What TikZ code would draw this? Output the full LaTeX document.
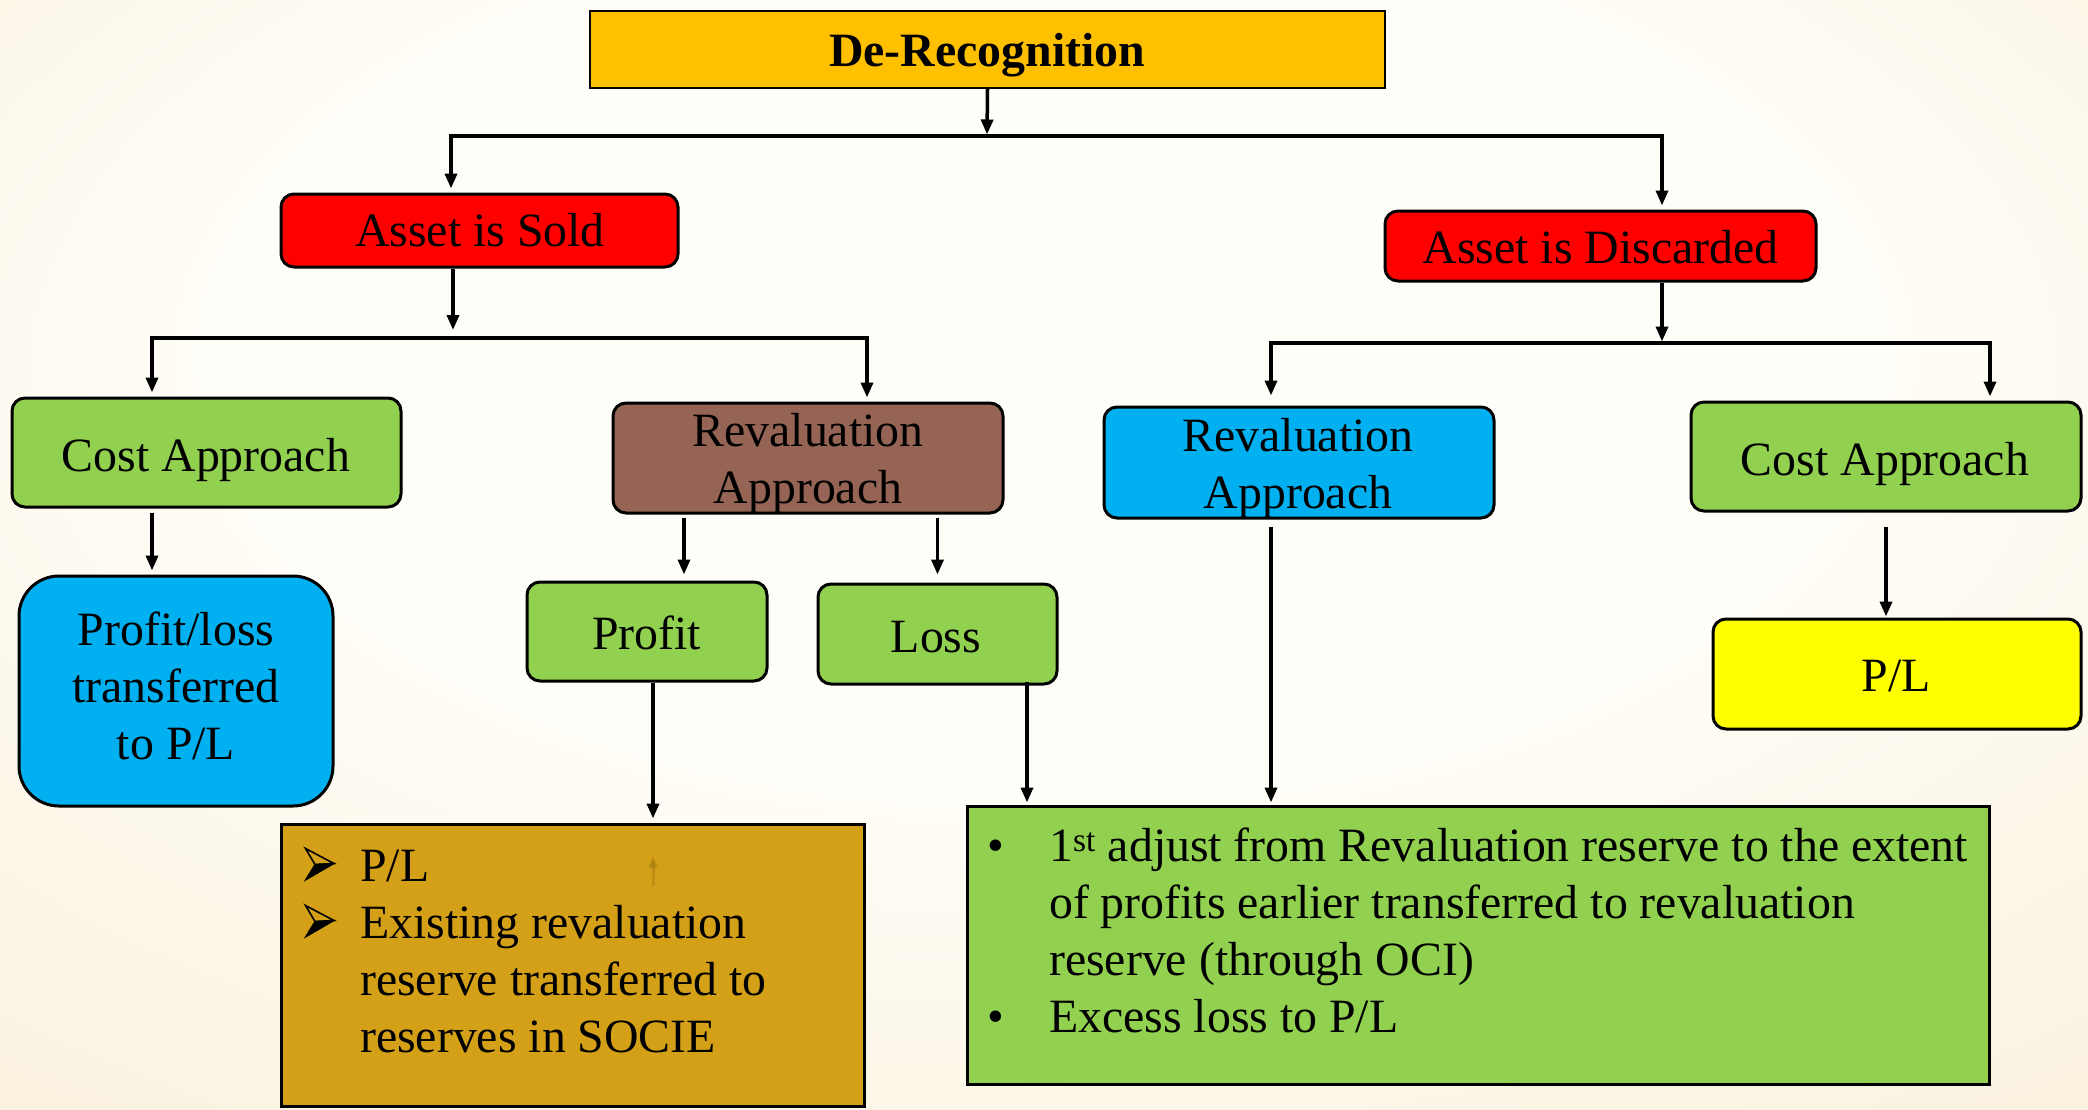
\documentclass[tikz,border=0pt]{standalone}
\usepackage{fontspec}
\setmainfont{Liberation Serif}
\usetikzlibrary{arrows.meta}

\definecolor{bgin}{HTML}{FFFDF7}
\definecolor{bgmid}{HTML}{FAF0DC}
\definecolor{bgout}{HTML}{F2DCAE}
\definecolor{headfill}{HTML}{FFC000}
\definecolor{redfill}{HTML}{FF0000}
\definecolor{greenfill}{HTML}{92D050}
\definecolor{brownfill}{HTML}{956454}
\definecolor{bluefill}{HTML}{00B0F0}
\definecolor{goldfill}{HTML}{D4A017}
\definecolor{yellowfill}{HTML}{FFFF00}

\pgfdeclareradialshading{bgglow}{\pgfpoint{0bp}{12bp}}{%
  color(0bp)=(bgin); color(20bp)=(bgin); color(42bp)=(bgmid);
  color(64bp)=(bgout); color(75bp)=(bgout)}

\begin{document}
\begin{tikzpicture}[x=1pt,y=-1pt,
  box/.style={draw=black, line width=3pt, rounded corners=13pt, inner sep=0pt},
  plain/.style={draw=black, line width=2.5pt, inner sep=0pt},
  txt/.style={inner sep=0pt, anchor=base, font=\fontsize{47.8pt}{57pt}\selectfont},
  conn/.style={line width=3.5pt, line join=miter, -{Triangle[length=15pt,width=12pt]}, shorten >=4pt},
  arrowmark/.pic={
    % outlined upper half and solid lower half of the list arrowhead
    \draw[line width=1.6pt, line join=miter] (0.5,-32.5) -- (29,-17.5) -- (10,-16.5) -- cycle;
    \fill[black] (10,-16.5) -- (29,-17.5) -- (0.5,-1) -- cycle;
    \draw[line width=1.2pt, line join=miter] (10,-16.5) -- (29,-17.5) -- (0.5,-1) -- cycle;
  },
]
% background
\shade[shading=bgglow] (0,0) rectangle (2088,1109);
\useasboundingbox (0,0) rectangle (2088,1109);

% boxes
\node[plain, line width=2pt, fill=headfill, minimum width=795pt, minimum height=77pt] (derec) at (987.5,49.5) {};
\node[box, fill=redfill, minimum width=397pt, minimum height=73pt] (sold) at (479.5,230.5) {};
\node[box, fill=redfill, minimum width=431pt, minimum height=70pt] (disc) at (1600.5,246) {};
\node[box, fill=greenfill, minimum width=389pt, minimum height=109pt] (costL) at (206.5,452.5) {};
\node[box, fill=brownfill, minimum width=390pt, minimum height=110pt] (revL) at (808,458) {};
\node[box, fill=bluefill, minimum width=390pt, minimum height=111pt] (revR) at (1299,462.5) {};
\node[box, fill=greenfill, minimum width=390pt, minimum height=109pt] (costR) at (1886,456.5) {};
\node[box, rounded corners=40pt, fill=bluefill, minimum width=314pt, minimum height=230pt] (plL) at (176,691) {};
\node[box, fill=greenfill, minimum width=240pt, minimum height=99pt] (profit) at (647,631.5) {};
\node[box, fill=greenfill, minimum width=239pt, minimum height=100pt] (loss) at (937.5,634) {};
\node[box, fill=yellowfill, minimum width=368pt, minimum height=110pt] (plR) at (1897,674) {};
\node[plain, line width=3pt, fill=goldfill, minimum width=583pt, minimum height=282pt] (gold) at (572.5,965) {};
\node[plain, line width=3pt, fill=greenfill, minimum width=1022pt, minimum height=278pt] (green) at (1478,945) {};

% texts
\node[txt] (t-derec) at (987,66) {\bfseries De-Recognition};
\node[txt] (t-sold) at (480,246) {Asset is Sold};
\node[txt] (t-disc) at (1600.5,263.5) {Asset is Discarded};
\node[txt] (t-costL) at (206,471) {Cost Approach};
\node[txt] (t-revL) at (808,446) {\begin{tabular}[t]{@{}c@{}}Revaluation\\Approach\end{tabular}};
\node[txt] (t-revR) at (1298,451.5) {\begin{tabular}[t]{@{}c@{}}Revaluation\\Approach\end{tabular}};
\node[txt] (t-costR) at (1885,475) {Cost Approach};
\node[txt] (t-plL) at (176,645) {\begin{tabular}[t]{@{}c@{}}Profit/loss\\transferred\\to P/L\end{tabular}};
\node[txt] (t-profit) at (646.5,649) {Profit};
\node[txt] (t-loss) at (936,652.5) {Loss};
\node[txt] (t-plR) at (1896,691) {P/L};
\node[txt, anchor=base west] (t-gold) at (360,881) {\begin{tabular}[t]{@{}l@{}}
  P/L\\
  Existing revaluation\\
  reserve transferred to\\
  reserves in SOCIE
\end{tabular}};
\pic at (305,881) {arrowmark};
\pic at (305,938) {arrowmark};
\node[txt, anchor=base west] (t-green) at (987,861) {\begin{tabular}[t]{@{}l@{}l@{}}
  \makebox[62pt][l]{\textbullet} & 1\textsuperscript{st} adjust from Revaluation reserve to the extent\\
  & of profits earlier transferred to revaluation\\
  & reserve (through OCI)\\
  \makebox[62pt][l]{\textbullet} & Excess loss to P/L
\end{tabular}};

% branch points
\coordinate (b1) at (987,136);
\coordinate (b1L) at (451,136);
\coordinate (b1R) at (1662,136);
\coordinate (b2) at (453,338);
\coordinate (b2L) at (152,338);
\coordinate (b2R) at (867,338);
\coordinate (b3) at (1662,343);
\coordinate (b3L) at (1271,343);
\coordinate (b3R) at (1990,343);
\coordinate (pdrop) at (684,560);
\coordinate (gdrop) at (653,760);
\coordinate (ldrop) at (1027,760);

% connectors
\draw[conn, shorten >=1.5pt] (derec.south) -- (b1);
\draw[conn] (b1) -| (b1L |- sold.north);
\draw[conn] (b1) -| (b1R |- disc.north);

\draw[conn, shorten >=8pt] (b2 |- sold.south) -- (b2);
\draw[conn] (b2) -| (b2L |- costL.north);
\draw[conn] (b2) -| (b2R |- revL.north);

\draw[conn, shorten >=1.5pt] (b3 |- disc.south) -- (b3);
\draw[conn, shorten >=10pt] (b3) -| (b3L |- revR.north);
\draw[conn] (b3) -| (b3R |- costR.north);

\draw[conn, shorten <=4pt] (b2L |- costL.south) -- (b2L |- plL.north);
\draw[conn, shorten <=3pt, shorten >=6pt] (pdrop |- revL.south) -- (pdrop |- profit.north);
\draw[conn, shorten <=3pt, shorten >=8pt] (revL.south -| loss.north) -- (loss.north);
\draw[conn] (gdrop |- profit.south) -- (gdrop |- gold.north);
\draw[conn, shorten <=-4pt, shorten >=2pt] (ldrop |- loss.south) -- (ldrop |- green.north);
\draw[conn, shorten <=7pt, shorten >=2pt] (b3L |- revR.south) -- (b3L |- green.north);
\draw[conn, shorten <=14pt, shorten >=1pt] (costR.south) -- (costR.south |- plR.north);

% faint mark inside the lower left box
\coordinate (g1) at (653,886);
\coordinate (g2) at (653,856);
\draw[line width=3pt, -{Triangle[length=12pt,width=9pt]}, draw=black, opacity=0.1] (g1) -- (g2);
\end{tikzpicture}
\end{document}
